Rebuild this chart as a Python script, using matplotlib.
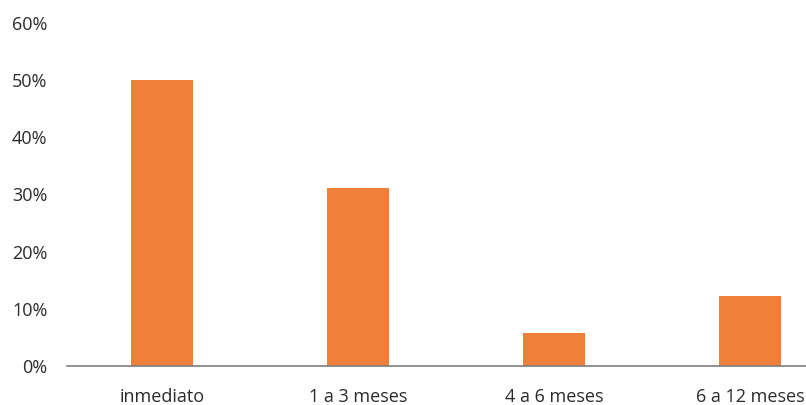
import matplotlib
matplotlib.use("Agg")
import matplotlib.pyplot as plt
from matplotlib.ticker import FuncFormatter

categories = ["inmediato", "1 a 3 meses", "4 a 6 meses", "6 a 12 meses"]
values = [0.50, 0.311, 0.058, 0.122]
yticks = [0, 0.1, 0.2, 0.3, 0.4, 0.5, 0.6]

plt.rcParams['font.family'] = ['Open Sans', 'DejaVu Sans']

fig = plt.figure(figsize=(8.06, 4.05), dpi=100)
ax = fig.add_axes([67/806, 39/405, (806-67)/806, (366-23)/405])

x = list(range(len(categories)))
ax.bar(x, values, width=0.32, color="#EF8039", zorder=2)

ax.set_xlim(-0.485, 3.286)
ax.set_ylim(0, 0.6)
ax.set_yticks(yticks)
ax.yaxis.set_major_formatter(FuncFormatter(lambda v, p: f"{int(round(v*100))}%"))
ax.set_xticks(x)
ax.set_xticklabels(categories)

for s in ["top", "right", "left"]:
    ax.spines[s].set_visible(False)
ax.spines["bottom"].set_color("#7f7f7f")
ax.spines["bottom"].set_linewidth(1.2)
ax.tick_params(axis="both", length=0, labelsize=13, colors="#2b2b2b")
ax.tick_params(axis="y", pad=14)
ax.tick_params(axis="x", pad=16)

fig.savefig("out.png", dpi=100)
